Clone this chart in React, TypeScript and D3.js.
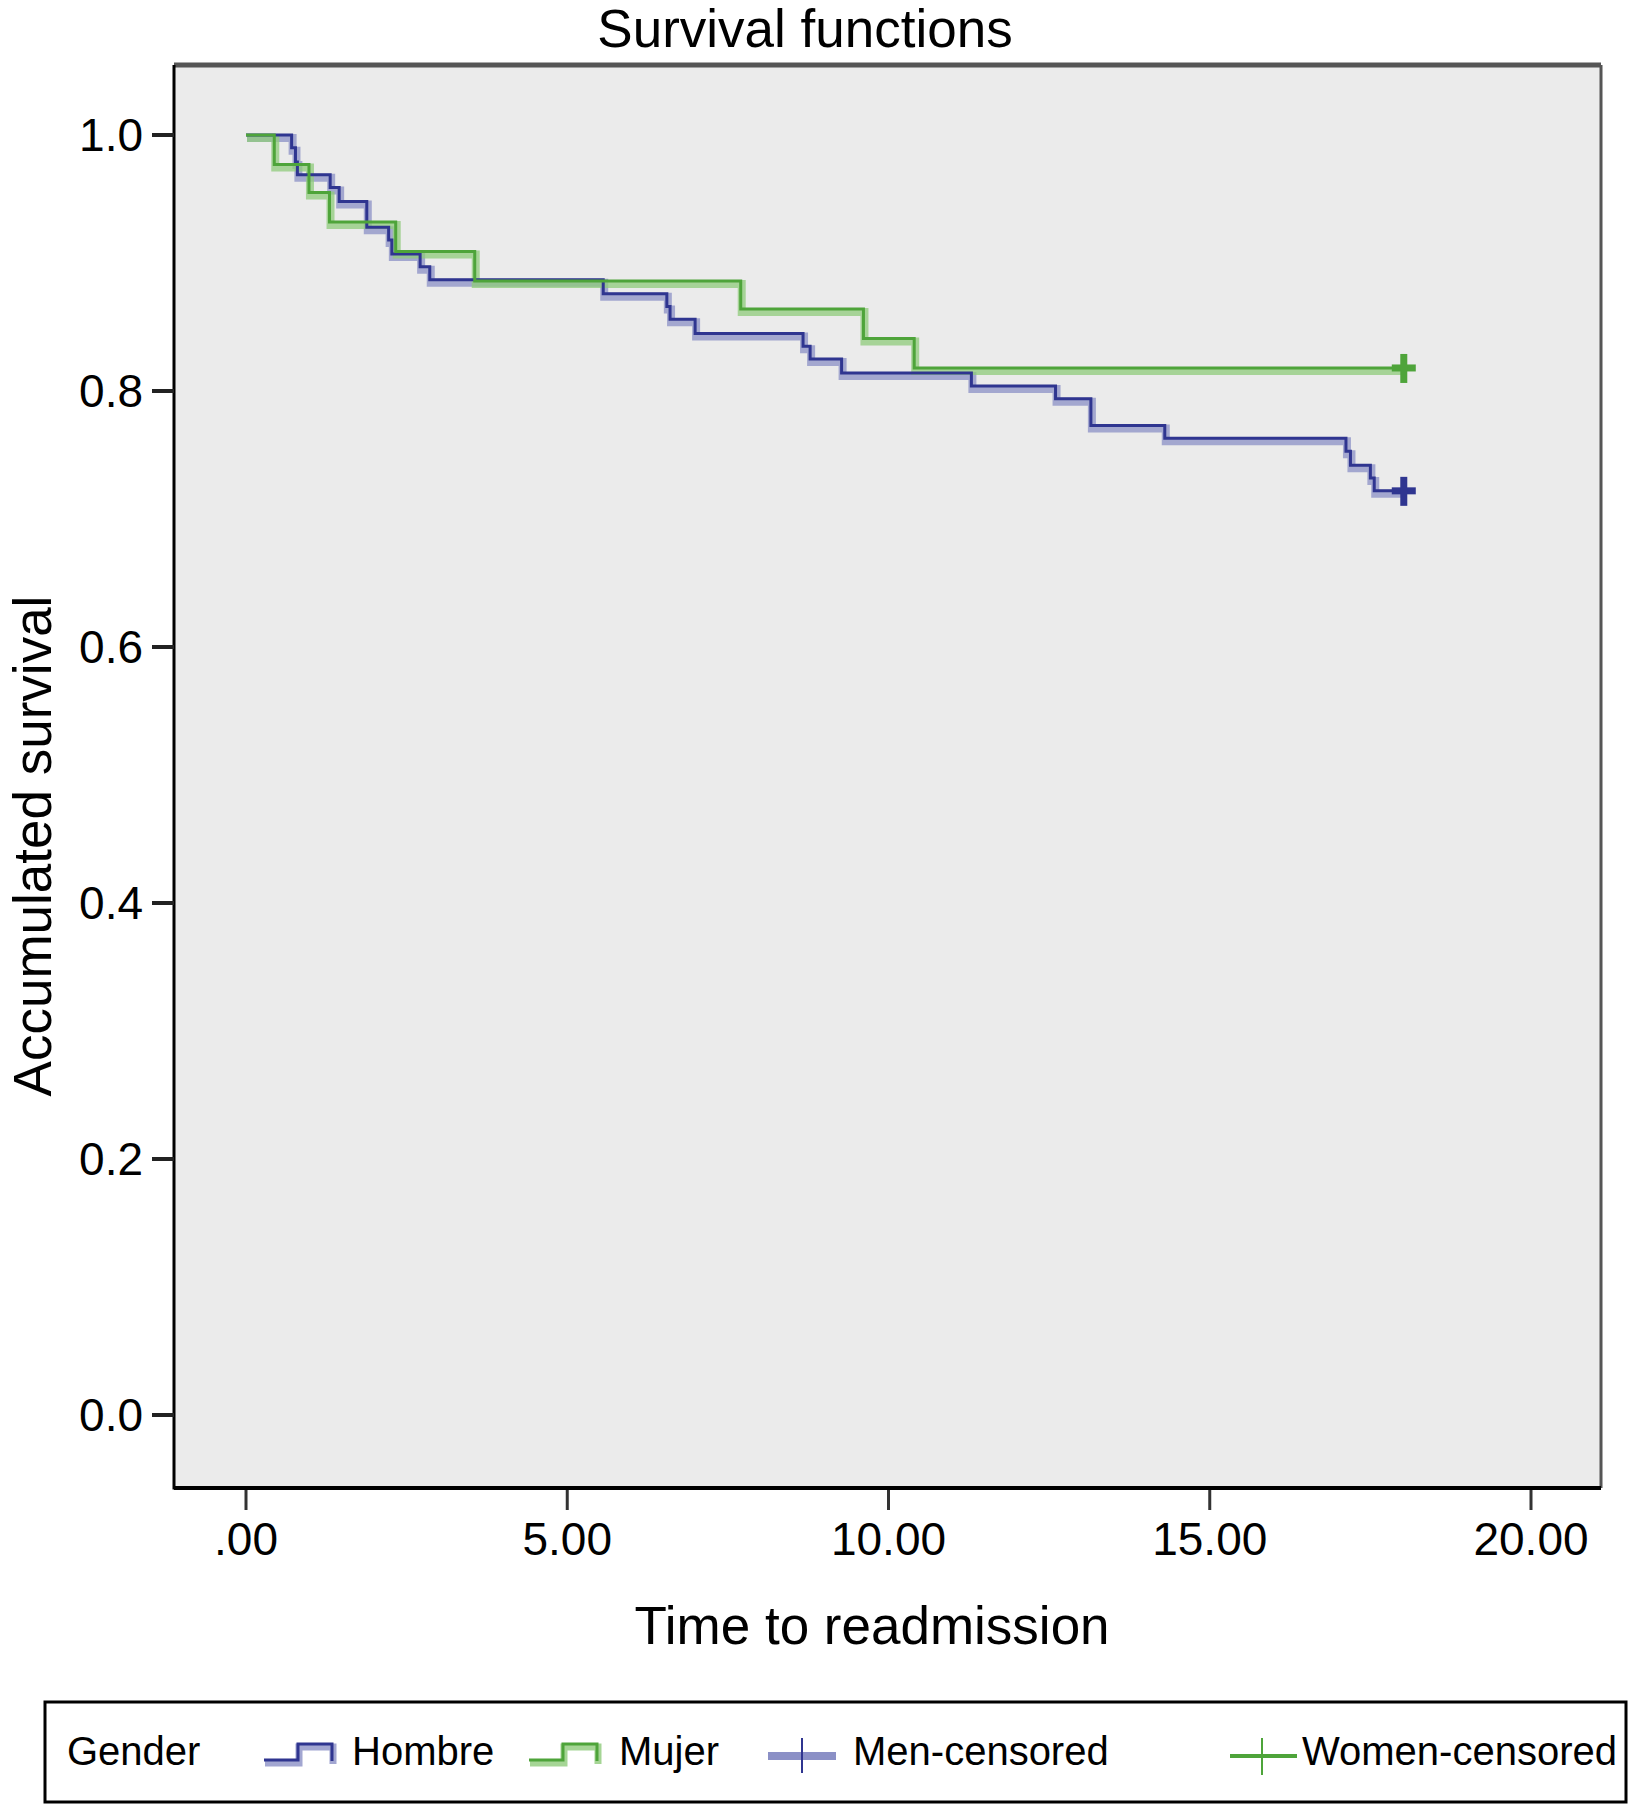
import React from 'react';
import * as d3 from 'd3';

// Kaplan-Meier estimates
const hombreTimes = [0, 0.71, 0.77, 0.8, 1.31, 1.45, 1.88, 2.22, 2.27, 2.71, 2.86, 5.56, 6.55, 6.6, 6.99, 8.67, 8.78, 9.27, 11.29, 12.6, 13.15, 14.3, 17.12, 17.19, 17.5, 17.56, 18.02];
const hombreSurv = [1, 0.99, 0.979, 0.969, 0.959, 0.948, 0.928, 0.918, 0.907, 0.897, 0.887, 0.876, 0.866, 0.856, 0.845, 0.835, 0.825, 0.814, 0.804, 0.794, 0.773, 0.763, 0.753, 0.742, 0.732, 0.722, 0.722];
const mujerTimes = [0, 0.44, 0.98, 1.3, 2.33, 3.56, 7.7, 9.61, 10.4, 18.02];
const mujerSurv = [1, 0.977, 0.955, 0.932, 0.909, 0.886, 0.864, 0.841, 0.818, 0.818];

const xTicks = [0, 5, 10, 15, 20];
const xTickLabels = ['.00', '5.00', '10.00', '15.00', '20.00'];
const yTicks = [0, 0.2, 0.4, 0.6, 0.8, 1.0];

const W = 1629;
const H = 1804;
const FONT = '"Liberation Sans", Arial, Helvetica, sans-serif';

const frame = { left: 174, top: 65, right: 1601, bottom: 1488 };

const colors = {
  blueDark: '#2f3590',
  blueLight: '#8b90c6',
  greenDark: '#4ea43a',
  greenLight: '#8fcb7b',
};

type Pt = { t: number; s: number };

const App: React.FC = () => {
  const x = d3.scaleLinear().domain([0, 20]).range([246, 1531]);
  const y = d3.scaleLinear().domain([0, 1]).range([1415, 135]);

  const toPts = (ts: number[], ss: number[]): Pt[] => ts.map((t, i) => ({ t, s: ss[i] }));
  const hombre = toPts(hombreTimes, hombreSurv);
  const mujer = toPts(mujerTimes, mujerSurv);

  const line = d3
    .line<Pt>()
    .x((d) => x(d.t))
    .y((d) => y(d.s))
    .curve(d3.curveStepAfter);

  const series = [
    { data: hombre, dark: colors.blueDark, light: colors.blueLight },
    { data: mujer, dark: colors.greenDark, light: colors.greenLight },
  ];

  const censor = (p: Pt, color: string, key: string) => (
    <g key={key}>
      <line x1={x(p.t) - 12} x2={x(p.t) + 12} y1={y(p.s)} y2={y(p.s)} stroke={color} strokeWidth={7} />
      <line x1={x(p.t)} x2={x(p.t)} y1={y(p.s) - 14} y2={y(p.s) + 15} stroke={color} strokeWidth={7} />
    </g>
  );

  // legend step glyph
  const stepGlyph = (x0: number, dark: string, light: string) => {
    const d = `M${x0},1760 H${x0 + 34} V1744 H${x0 + 68} V1761`;
    return (
      <g>
        <path d={d} fill="none" stroke={light} strokeWidth={7} opacity={0.8} transform="translate(1,3)" />
        <path d={d} fill="none" stroke={dark} strokeWidth={3} />
      </g>
    );
  };

  return (
    <svg
      width={W}
      height={H}
      viewBox={`0 0 ${W} ${H}`}
      style={{ position: 'absolute', left: 0, top: 0, background: '#fff' }}
      fontFamily={FONT}
    >
      {/* title */}
      <text x={805} y={47} textAnchor="middle" fontSize={53} fill="#000">
        Survival functions
      </text>

      {/* plot background and frame */}
      <rect
        x={frame.left}
        y={frame.top}
        width={frame.right - frame.left}
        height={frame.bottom - frame.top}
        fill="#ebebeb"
      />
      <line x1={frame.left} x2={frame.right} y1={frame.top} y2={frame.top} stroke="#555" strokeWidth={5} />
      <line x1={frame.right} x2={frame.right} y1={frame.top} y2={frame.bottom} stroke="#555" strokeWidth={3} />
      <line x1={frame.left} x2={frame.left} y1={frame.top} y2={frame.bottom + 1.5} stroke="#000" strokeWidth={3} />
      <line x1={frame.left} x2={frame.right} y1={frame.bottom} y2={frame.bottom} stroke="#000" strokeWidth={4} />

      {/* y axis ticks */}
      {yTicks.map((v) => (
        <g key={`y${v}`}>
          <line x1={152} x2={frame.left} y1={y(v)} y2={y(v)} stroke="#222" strokeWidth={4} />
          <text x={143} y={y(v)} dy="0.35em" textAnchor="end" fontSize={46} fill="#000">
            {v.toFixed(1)}
          </text>
        </g>
      ))}

      {/* x axis ticks */}
      {xTicks.map((v, i) => (
        <g key={`x${v}`}>
          <line x1={x(v)} x2={x(v)} y1={frame.bottom + 2} y2={frame.bottom + 22} stroke="#333" strokeWidth={3} />
          <text x={x(v)} y={1555} textAnchor="middle" fontSize={46} fill="#000">
            {xTickLabels[i]}
          </text>
        </g>
      ))}

      {/* axis titles */}
      <text x={872} y={1644} textAnchor="middle" fontSize={53} fill="#000">
        Time to readmission
      </text>
      <text
        transform="translate(51,846) rotate(-90)"
        textAnchor="middle"
        fontSize={53}
        fill="#000"
      >
        Accumulated survival
      </text>

      {/* survival curves */}
      {series.map((sr, i) => (
        <path
          key={`band${i}`}
          d={line(sr.data) || ''}
          fill="none"
          stroke={sr.light}
          strokeWidth={8}
          opacity={0.75}
          transform="translate(1,3)"
        />
      ))}
      {series.map((sr, i) => (
        <path key={`line${i}`} d={line(sr.data) || ''} fill="none" stroke={sr.dark} strokeWidth={3} />
      ))}
      {censor(hombre[hombre.length - 1], colors.blueDark, 'cm')}
      {censor(mujer[mujer.length - 1], colors.greenDark, 'cw')}

      {/* legend */}
      <rect x={45} y={1702} width={1581} height={100} fill="#fff" stroke="#000" strokeWidth={3} />
      <text x={67} y={1765} fontSize={40} fill="#000">Gender</text>

      {stepGlyph(264, colors.blueDark, colors.blueLight)}
      <text x={352} y={1765} fontSize={40} fill="#000">Hombre</text>

      {stepGlyph(529, colors.greenDark, colors.greenLight)}
      <text x={619} y={1765} fontSize={40} fill="#000">Mujer</text>

      <line x1={768} x2={836} y1={1756} y2={1756} stroke={colors.blueLight} strokeWidth={8} />
      <line x1={802} x2={802} y1={1738} y2={1773} stroke={colors.blueDark} strokeWidth={2} />
      <text x={853} y={1765} fontSize={40} fill="#000">Men-censored</text>

      <line x1={1230} x2={1297} y1={1756} y2={1756} stroke={colors.greenDark} strokeWidth={4} />
      <line x1={1262} x2={1262} y1={1738} y2={1775} stroke={colors.greenDark} strokeWidth={2} />
      <text x={1302} y={1765} fontSize={40} fill="#000">Women-censored</text>
    </svg>
  );
};

export default App;
